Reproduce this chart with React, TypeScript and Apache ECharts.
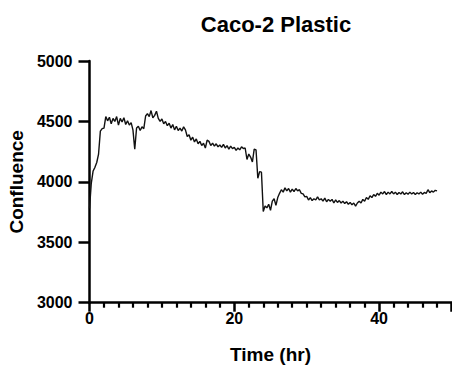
import React, { useEffect, useRef } from "react";
import * as echarts from "echarts";

// Caco-2 confluence on plastic, one reading every 15 min from 0 to 48 h
const sampleStepHr = 0.25;

const confluence: number[] = [
  3780, 3990, 4090, 4120, 4160, 4230, 4420, 4440,
  4445, 4540, 4505, 4535, 4480, 4525, 4500, 4540,
  4470, 4525, 4495, 4530, 4475, 4505, 4470, 4490,
  4430, 4270, 4445, 4460, 4425, 4455, 4440, 4545,
  4565, 4540, 4590, 4530, 4550, 4585, 4525, 4500,
  4520, 4480, 4500, 4465, 4485, 4445, 4475, 4430,
  4460, 4425, 4445, 4420, 4455, 4430, 4375, 4390,
  4345, 4370, 4330, 4355, 4315, 4335, 4300, 4320,
  4280, 4345, 4335, 4300, 4320, 4295, 4315, 4290,
  4305, 4285, 4310, 4280, 4300, 4270, 4295, 4275,
  4285, 4260, 4280, 4265, 4290, 4275, 4280, 4185,
  4230, 4205, 4165, 4270, 4265, 4030, 4085, 4080,
  3755, 3800, 3785, 3815, 3765, 3840, 3860, 3805,
  3870, 3905, 3935, 3915, 3950, 3925, 3945, 3915,
  3940, 3920, 3945, 3925, 3935, 3905, 3900, 3875,
  3880, 3850, 3870, 3845, 3860, 3850, 3875, 3850,
  3860, 3840, 3865, 3835, 3855, 3840, 3855, 3825,
  3850, 3830, 3845, 3825, 3840, 3820, 3835, 3815,
  3830, 3810, 3825, 3800, 3825, 3840, 3825, 3855,
  3840, 3870, 3855, 3885, 3870, 3895, 3880, 3905,
  3890, 3915, 3900, 3920, 3895, 3915, 3900, 3920,
  3900, 3915, 3895, 3912, 3900, 3918, 3895, 3910,
  3898, 3915, 3900, 3912, 3895, 3910, 3900, 3915,
  3898, 3912, 3905, 3935, 3910, 3925, 3915, 3930,
  3925,
];

const timeHr: number[] = confluence.map((_, i) => i * sampleStepHr);

const yTicks = { min: 3000, max: 5000, step: 500 };
const xTicks = { min: 0, max: 50, step: 20 };

const FONT = "'Liberation Sans', Arial, Helvetica, sans-serif";

export default function App() {
  const ref = useRef<HTMLDivElement>(null);

  useEffect(() => {
    document.body.style.margin = "0";
    if (!ref.current) return;
    const chart = echarts.init(ref.current, undefined, { renderer: "svg" });
    const points = timeHr.map((t, i) => [t, confluence[i]]);

    chart.setOption({
      animation: false,
      backgroundColor: "#fff",
      title: {
        text: "Caco-2 Plastic",
        left: 271,
        top: 8,
        textAlign: "center",
        textStyle: { fontFamily: FONT, fontWeight: "bold", fontSize: 22, color: "#000" },
      },
      grid: { left: 89.5, right: 0.5, top: 61, bottom: 64.3, outerBoundsMode: "none", containLabel: false },
      xAxis: {
        type: "value",
        min: xTicks.min,
        max: xTicks.max,
        interval: xTicks.step,
        name: "Time (hr)",
        nameLocation: "middle",
        nameGap: 42,
        nameTextStyle: { fontFamily: FONT, fontWeight: "bold", fontSize: 19, color: "#000" },
        axisLine: { onZero: false, lineStyle: { color: "#000", width: 2.5 } },
        axisTick: { show: true, length: 9, lineStyle: { color: "#000", width: 2.5 } },
        minorTick: { show: true, splitNumber: 10, length: 5, lineStyle: { color: "#000", width: 2.2 } },
        splitLine: { show: false },
        axisLabel: {
          margin: 8,
          fontFamily: FONT,
          fontWeight: "bold",
          fontSize: 16,
          color: "#000",
          showMaxLabel: false,
          formatter: (v: number) => String(v),
        },
      },
      yAxis: {
        type: "value",
        min: yTicks.min,
        max: yTicks.max,
        interval: yTicks.step,
        name: "Confluence",
        nameLocation: "middle",
        nameGap: 59,
        nameTextStyle: { fontFamily: FONT, fontWeight: "bold", fontSize: 19, color: "#000" },
        axisLine: { show: true, lineStyle: { color: "#000", width: 2.5 } },
        axisTick: { show: true, length: 11, lineStyle: { color: "#000", width: 2.5 } },
        splitLine: { show: false },
        axisLabel: {
          margin: 17,
          fontFamily: FONT,
          fontWeight: "bold",
          fontSize: 16,
          color: "#000",
          formatter: (v: number) => String(v),
        },
      },
      series: [
        {
          type: "line",
          data: points,
          showSymbol: false,
          symbol: "none",
          lineStyle: { color: "#111", width: 1.4 },
        },
      ],
    });

    return () => chart.dispose();
  }, []);

  return <div ref={ref} style={{ width: 452, height: 367 }} />;
}
